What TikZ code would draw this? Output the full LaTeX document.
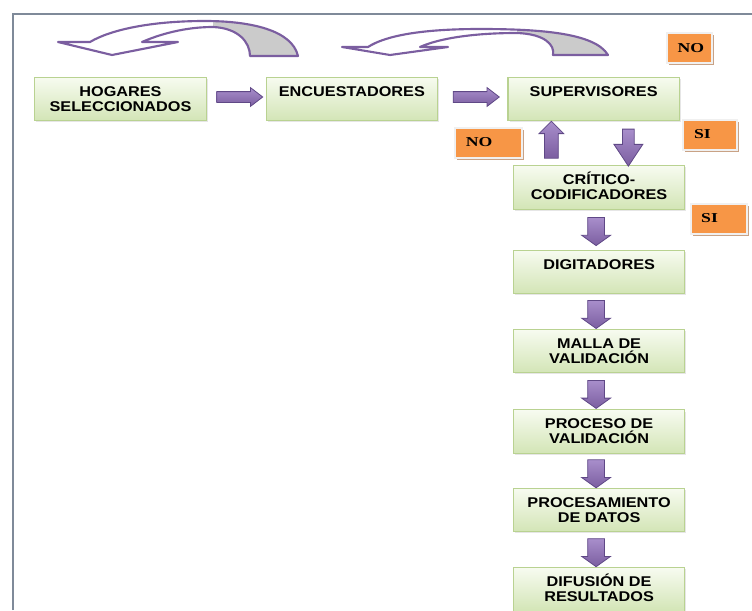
\documentclass[tikz,border=0pt]{standalone}
\usepackage{fontspec}
\setmainfont{Liberation Serif}
\setsansfont{Liberation Sans}[FakeStretch=1.15]
\newfontfamily\respfont{Liberation Serif}[FakeStretch=1.3]
\usetikzlibrary{shapes.arrows, positioning, calc, shadows}
\definecolor{fcGreenTop}{HTML}{F7FBF0}
\definecolor{fcGreenBot}{HTML}{D3E5B6}
\definecolor{fcGreenLine}{HTML}{B9D291}
\definecolor{fcOrange}{HTML}{F79646}
\definecolor{fcBrown}{HTML}{C9A285}
\definecolor{fcPurple}{HTML}{7B5EA0}
\definecolor{fcPurpleLight}{HTML}{A88ECB}
\definecolor{fcPurpleDark}{HTML}{5F4886}
\definecolor{fcGray}{HTML}{CBCBCB}
\definecolor{fcFrame}{HTML}{7F8A99}

\begin{document}
\begin{tikzpicture}[x=0.75pt, y=-0.75pt,
  etapa/.style={draw=fcGreenLine, line width=0.8pt, top color=fcGreenTop, bottom color=fcGreenBot,
              drop shadow={shadow xshift=1.2pt, shadow yshift=-1.2pt, opacity=0.2},
              minimum width=128.5pt, minimum height=32.5pt, inner sep=3pt,
              text height=11.25pt, text depth=15.25pt, align=center,
              font=\sffamily\bfseries\fontsize{10.6}{11}\selectfont},
  doble/.style={text height=22.25pt, text depth=4.25pt},
  resp/.style={draw=black!6, line width=1.5pt, fill=fcOrange,
              drop shadow={shadow xshift=1.5pt, shadow yshift=-1.5pt, fill=fcBrown, opacity=1},
              minimum height=22.5pt, inner xsep=8pt, text width=#1, align=left,
              font=\respfont\bfseries\fontsize{10.2}{11}\selectfont},
  flecha/.style={single arrow, draw=fcPurpleDark, line width=0.6pt,
              top color=fcPurpleLight, bottom color=fcPurple, inner xsep=0pt},
  flechader/.style={flecha, minimum height=34.5pt, inner ysep=3.75pt,
              single arrow head extend=3pt, single arrow tip angle=75},
  flechabaja/.style={flecha, rotate=-90, minimum height=21pt, inner ysep=6pt,
              single arrow head extend=4.5pt, single arrow tip angle=109},
  vuelta/.style={draw=fcPurple, line width=1.6pt, line join=round},
  curvaA/.style={insert path={(298,56) .. controls (292,30) and (250,21) .. (205,21)
              .. controls (150,21) and (110,30) .. (90,42) -- (58,42) -- (112,55) -- (178,42) -- (142,42)
              .. controls (165,32) and (190,27) .. (213,27) .. controls (238,28) and (250,42) .. (250,56) -- cycle}},
  curvaB/.style={insert path={(608,55) .. controls (595,33) and (540,29) .. (480,29)
              .. controls (420,29) and (385,36) .. (368,47) -- (342,47) -- (390,55) -- (448,47) -- (420,47)
              .. controls (440,38) and (475,33) .. (517,33) .. controls (545,34) and (555,45) .. (553,55) -- cycle}},
]
\useasboundingbox (0,0) rectangle (752,610);
\draw[fcFrame, line width=1.2pt] (13,610) -- (13,14) -- (752,14);

% ---- fila superior ----
\node[etapa, doble] (hogares) at (120.5,99) {HOGARES\\SELECCIONADOS};
\node[etapa, right=44.25pt of hogares] (encuestadores) {ENCUESTADORES};
\node[etapa, right=52pt of encuestadores] (supervisores) {SUPERVISORES};

% ---- columna ----
\node[etapa, doble, below=33pt of supervisores, xshift=4.1pt] (critico) {CRÍTICO-\\CODIFICADORES};
\node[etapa, below=30pt of critico] (digitadores) {DIGITADORES};
\node[etapa, doble, below=26.25pt of digitadores] (malla) {MALLA DE\\VALIDACIÓN};
\node[etapa, doble, below=27pt of malla] (proceso) {PROCESO DE\\VALIDACIÓN};
\node[etapa, doble, below=25.5pt of proceso] (procesamiento) {PROCESAMIENTO\\DE DATOS};
\node[etapa, doble, below=26.25pt of procesamiento] (difusion) {DIFUSIÓN DE\\RESULTADOS};

% ---- respuestas ----
\node[resp=18pt] (no1) at (689.5,48) {NO};
\node[resp=34pt] (no2) at (488.5,142.5) {NO};
\node[resp=24pt] (si1) at (710,134.5) {SI};
\node[resp=26pt] (si2) at (718.5,218.5) {SI};

% ---- flechas ----
\node[flechader] (f1) at ($(hogares.east)!0.5!(encuestadores.west)+(0,-2)$) {};
\node[flechader] (f2) at ($(encuestadores.east)!0.5!(supervisores.west)+(0,-2)$) {};
\node[flecha, rotate=-90, minimum height=27.75pt, inner ysep=4.1pt,
      single arrow head extend=6.4pt, single arrow tip angle=67]
      (fsi) at ($(supervisores.south)!0.5!(critico.north)+(32,0)$) {};
\node[flecha, rotate=90, minimum height=27.75pt, inner ysep=4.9pt,
      single arrow head extend=4.1pt, single arrow tip angle=90]
      (fno) at ($(supervisores.south)!0.5!(critico.north)+(-45,0)$) {};
\node[flechabaja] (f3) at ($(critico.south)!0.5!(digitadores.north)+(-3,-1)$) {};
\node[flechabaja] (f4) at ($(digitadores.south)!0.5!(malla.north)+(-3,0)$) {};
\node[flechabaja] (f5) at ($(malla.south)!0.5!(proceso.north)+(-3,0)$) {};
\node[flechabaja] (f6) at ($(proceso.south)!0.5!(procesamiento.north)+(-3,0)$) {};
\node[flechabaja] (f7) at ($(procesamiento.south)!0.5!(difusion.north)+(-3,0)$) {};

% ---- retornos ----
\begin{scope}
  \clip (213,0) rectangle (300,60);
  \fill[fcGray, curvaA];
\end{scope}
\draw[vuelta, curvaA];
\begin{scope}
  \clip (517,0) rectangle (610,60);
  \fill[fcGray, curvaB];
\end{scope}
\draw[vuelta, curvaB];
\end{tikzpicture}
\end{document}
